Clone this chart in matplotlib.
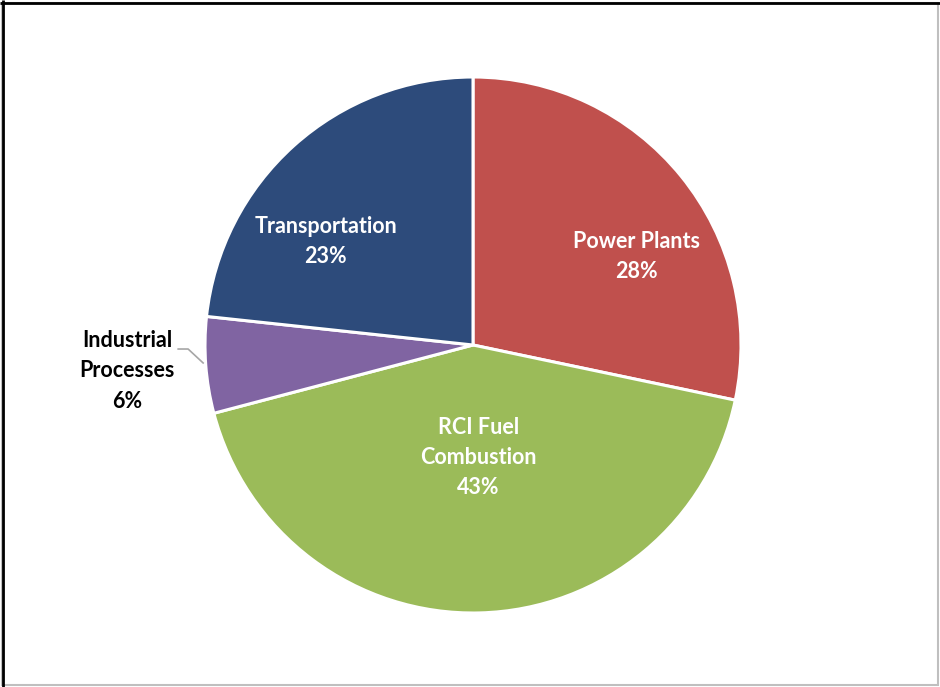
import matplotlib.pyplot as plt
from matplotlib.patches import Rectangle

labels = ["Power Plants", "RCI Fuel\nCombustion", "Industrial\nProcesses", "Transportation"]
shares = [28.3, 42.6, 5.8, 23.3]
colors = ["#C0504D", "#9BBB59", "#8064A2", "#2D4B7B"]
text_colors = ["white", "white", "black", "white"]
# label centres in pie coordinates (radius = 1)
label_pos = [(0.61, 0.33), (0.02, -0.42), (-1.29, -0.097), (-0.55, 0.385)]

plt.rcParams['font.family'] = ['Lato', 'DejaVu Sans']

W, H = 940, 687
fig = plt.figure(figsize=(W / 100, H / 100), dpi=100)

cx, cy, r = 473, 345, 268
ax = fig.add_axes([(cx - r) / W, (H - cy - r) / H, 2 * r / W, 2 * r / H])
ax.pie(shares, colors=colors, startangle=90, counterclock=False, radius=1,
       wedgeprops=dict(edgecolor="white", linewidth=2.2))
ax.set_xlim(-1, 1)
ax.set_ylim(-1, 1)
ax.set_aspect("equal")
ax.axis("off")

for lab, s, c, (x, y) in zip(labels, shares, text_colors, label_pos):
    ax.text(x, y, f"{lab}\n{s:.0f}%", ha="center", va="center", color=c,
            fontsize=15.5, fontweight="bold", linespacing=1.55, clip_on=False)

# leader line for the small slice
ax.plot([-1.10, -1.063, -1.007], [-0.015, -0.015, -0.067], color="#A6A6A6",
        lw=1.2, clip_on=False)

# chart border
fig.patches.append(Rectangle((2 / W, 2 / H), (W - 4) / W, (H - 5) / H,
                             transform=fig.transFigure, fill=False,
                             edgecolor="#BFBFBF", lw=1.5))
fig.patches.append(Rectangle((3 / W, 0), 0, 1, transform=fig.transFigure,
                             fill=False, edgecolor="black", lw=2))
fig.patches.append(Rectangle((0, (H - 3) / H), 1, 0, transform=fig.transFigure,
                             fill=False, edgecolor="black", lw=2))

fig.savefig("out.png", dpi=100)
